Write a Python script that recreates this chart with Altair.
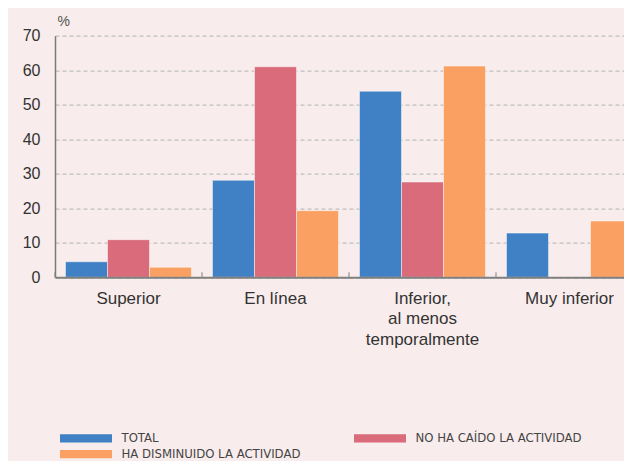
import altair as alt
import pandas as pd

categories = ["Superior", "En línea", "Inferior,|al menos|temporalmente", "Muy inferior"]
series = ["TOTAL", "NO HA CAÍDO LA ACTIVIDAD", "HA DISMINUIDO LA ACTIVIDAD"]
total = [4.5, 28.1, 53.9, 12.8]
no_caido = [10.9, 61.0, 27.6, 0.0]
disminuido = [2.9, 19.3, 61.2, 16.3]
colors = ["#4080C4", "#D96B7B", "#F9A062"]
y_ticks = [0, 10, 20, 30, 40, 50, 60, 70]

rows = []
for s, vals in zip(series, [total, no_caido, disminuido]):
    for c, v in zip(categories, vals):
        rows.append({"cat": c, "serie": s, "v": v})
df = pd.DataFrame(rows)
cat_df = pd.DataFrame({"cat": categories})

W = 569          # visible plot width (svg is clipped at the window edge)
STEP = 147       # group step
H = 241.6
FONT = "Liberation Sans, Arial, Helvetica, sans-serif"
NARROW = "DejaVu Sans Condensed, Liberation Sans Narrow, Arial Narrow, sans-serif"

xscale = alt.Scale(domain=categories, range=[0, STEP * len(categories)],
                   paddingInner=0, paddingOuter=0)

bars = alt.Chart(df).transform_filter("datum.v > 0").mark_bar(
    stroke="#FFFFFF", strokeWidth=1, strokeOpacity=0.45
).encode(
    x=alt.X("cat:N", scale=xscale, sort=categories, title=None,
            axis=alt.Axis(labelExpr="split(datum.label, '|')", labelAngle=0,
                          ticks=False, labelPadding=13, labelFontSize=17,
                          labelLineHeight=20.5, labelColor="#333333", labelFont=FONT,
                          domainColor="#808080", domainWidth=2, zindex=1,
                          labelBaseline="top", labelAlign="center")),
    xOffset=alt.XOffset("serie:N", sort=series,
                        scale=alt.Scale(domain=series, paddingInner=0, paddingOuter=0.25)),
    y=alt.Y("v:Q", scale=alt.Scale(domain=[0, 70], nice=False),
            axis=alt.Axis(values=y_ticks, title="%", titleAngle=0, titleAlign="left",
                          titleX=2, titleY=-10, titleBaseline="alphabetic",
                          titleFontSize=14, titleFontWeight="normal", titleColor="#555555",
                          titleFont=FONT, ticks=False, labelPadding=15, labelFontSize=16,
                          labelColor="#333333", labelFont=FONT, domainColor="#7A7A7A",
                          domainWidth=1.5, gridColor="#BEBEBE", gridDash=[4, 3],
                          gridWidth=1.2)),
    color=alt.Color("serie:N", sort=series,
                    scale=alt.Scale(domain=series, range=colors),
                    legend=alt.Legend(title=None, orient="none", legendX=24.5, legendY=396,
                                      columns=2, direction="horizontal",
                                      columnPadding=53, rowPadding=2,
                                      symbolType="M-5.2,-0.83H5.2V0.83H-5.2Z", symbolSize=100,
                                      symbolStrokeWidth=0, labelOffset=29, labelFontSize=13,
                                      labelFont=NARROW, labelColor="#444444", padding=0,
                                      labelLimit=400)),
)

ticks = alt.Chart(cat_df).mark_rule(color="#808080", strokeWidth=1,
                                    xOffset=-STEP / 2).encode(
    x=alt.X("cat:N", scale=xscale, sort=categories),
    y=alt.value(H - 5),
    y2=alt.value(H),
)

chart = alt.layer(bars, ticks).properties(
    width=W, height=H,
    autosize=alt.AutoSizeParams(type="none"),
    padding={"left": 47, "top": 27.7, "right": 0, "bottom": 183.7},
    background="#F8ECEC",
).configure_view(stroke=None)

chart.save("out.html", embed_options={"renderer": "svg", "actions": False})
